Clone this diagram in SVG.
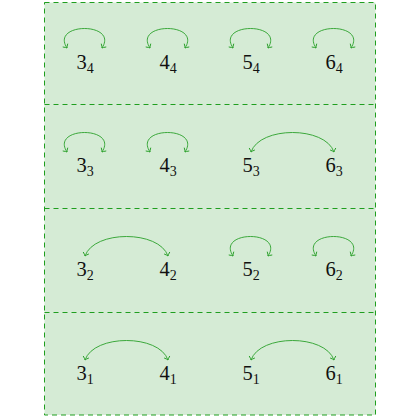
<svg xmlns="http://www.w3.org/2000/svg" width="420" height="420" viewBox="0 0 420 420">
<style>
.box{fill:#d5ebd5;stroke:#1f9e1f;stroke-width:1;stroke-dasharray:5 4}
.sep{stroke:#1f9e1f;stroke-width:1;stroke-dasharray:5 4;fill:none}
.arc{fill:none;stroke:#2aa02a;stroke-width:0.9;marker-start:url(#ah);marker-end:url(#ah)}
.lbl{font-family:"Liberation Serif",serif;font-size:20.5px;fill:#111;text-anchor:middle}
.sub{font-size:14px}
</style>
<defs>
<marker id="ah" viewBox="-4 -4 8 8" markerWidth="8" markerHeight="8" refX="0" refY="0" orient="auto-start-reverse" markerUnits="userSpaceOnUse">
<path d="M-3.2,-3 Q-1,-0.5 0,0 Q-1,0.5 -3.2,3" fill="none" stroke="#2aa02a" stroke-width="0.9"/>
</marker>
</defs>
<g id="background">
<rect class="box" x="44.5" y="2.5" width="331" height="412.5"/>
<line class="sep" x1="44.5" y1="104.5" x2="375.5" y2="104.5"/>
<line class="sep" x1="44.5" y1="208.5" x2="375.5" y2="208.5"/>
<line class="sep" x1="44.5" y1="312.5" x2="375.5" y2="312.5"/>
</g>
<g id="connectors">
<path class="arc" d="M67,48 C50,22 119,22 102,48"/>
<path class="arc" d="M150,48 C133,22 202,22 185,48"/>
<path class="arc" d="M233,48 C216,22 285,22 268,48"/>
<path class="arc" d="M316,48 C299,22 368,22 351,48"/>
<path class="arc" d="M67,152 C50,126 119,126 102,152"/>
<path class="arc" d="M150,152 C133,126 202,126 185,152"/>
<path class="arc" d="M251,152 C260,126 325,126 334,152"/>
<path class="arc" d="M85,256 C94,230 159,230 168,256"/>
<path class="arc" d="M233,256 C216,230 285,230 268,256"/>
<path class="arc" d="M316,256 C299,230 368,230 351,256"/>
<path class="arc" d="M85,360 C94,334 159,334 168,360"/>
<path class="arc" d="M251,360 C260,334 325,334 334,360"/>
</g>
<g id="n34"><text class="lbl" x="85" y="69">3<tspan class="sub" dy="4">4</tspan></text></g>
<g id="n44"><text class="lbl" x="168" y="69">4<tspan class="sub" dy="4">4</tspan></text></g>
<g id="n54"><text class="lbl" x="251" y="69">5<tspan class="sub" dy="4">4</tspan></text></g>
<g id="n64"><text class="lbl" x="334" y="69">6<tspan class="sub" dy="4">4</tspan></text></g>
<g id="n33"><text class="lbl" x="85" y="172">3<tspan class="sub" dy="4">3</tspan></text></g>
<g id="n43"><text class="lbl" x="168" y="172">4<tspan class="sub" dy="4">3</tspan></text></g>
<g id="n53"><text class="lbl" x="251" y="172">5<tspan class="sub" dy="4">3</tspan></text></g>
<g id="n63"><text class="lbl" x="334" y="172">6<tspan class="sub" dy="4">3</tspan></text></g>
<g id="n32"><text class="lbl" x="85" y="276">3<tspan class="sub" dy="4">2</tspan></text></g>
<g id="n42"><text class="lbl" x="168" y="276">4<tspan class="sub" dy="4">2</tspan></text></g>
<g id="n52"><text class="lbl" x="251" y="276">5<tspan class="sub" dy="4">2</tspan></text></g>
<g id="n62"><text class="lbl" x="334" y="276">6<tspan class="sub" dy="4">2</tspan></text></g>
<g id="n31"><text class="lbl" x="85" y="380">3<tspan class="sub" dy="4">1</tspan></text></g>
<g id="n41"><text class="lbl" x="168" y="380">4<tspan class="sub" dy="4">1</tspan></text></g>
<g id="n51"><text class="lbl" x="251" y="380">5<tspan class="sub" dy="4">1</tspan></text></g>
<g id="n61"><text class="lbl" x="334" y="380">6<tspan class="sub" dy="4">1</tspan></text></g>
</svg>
